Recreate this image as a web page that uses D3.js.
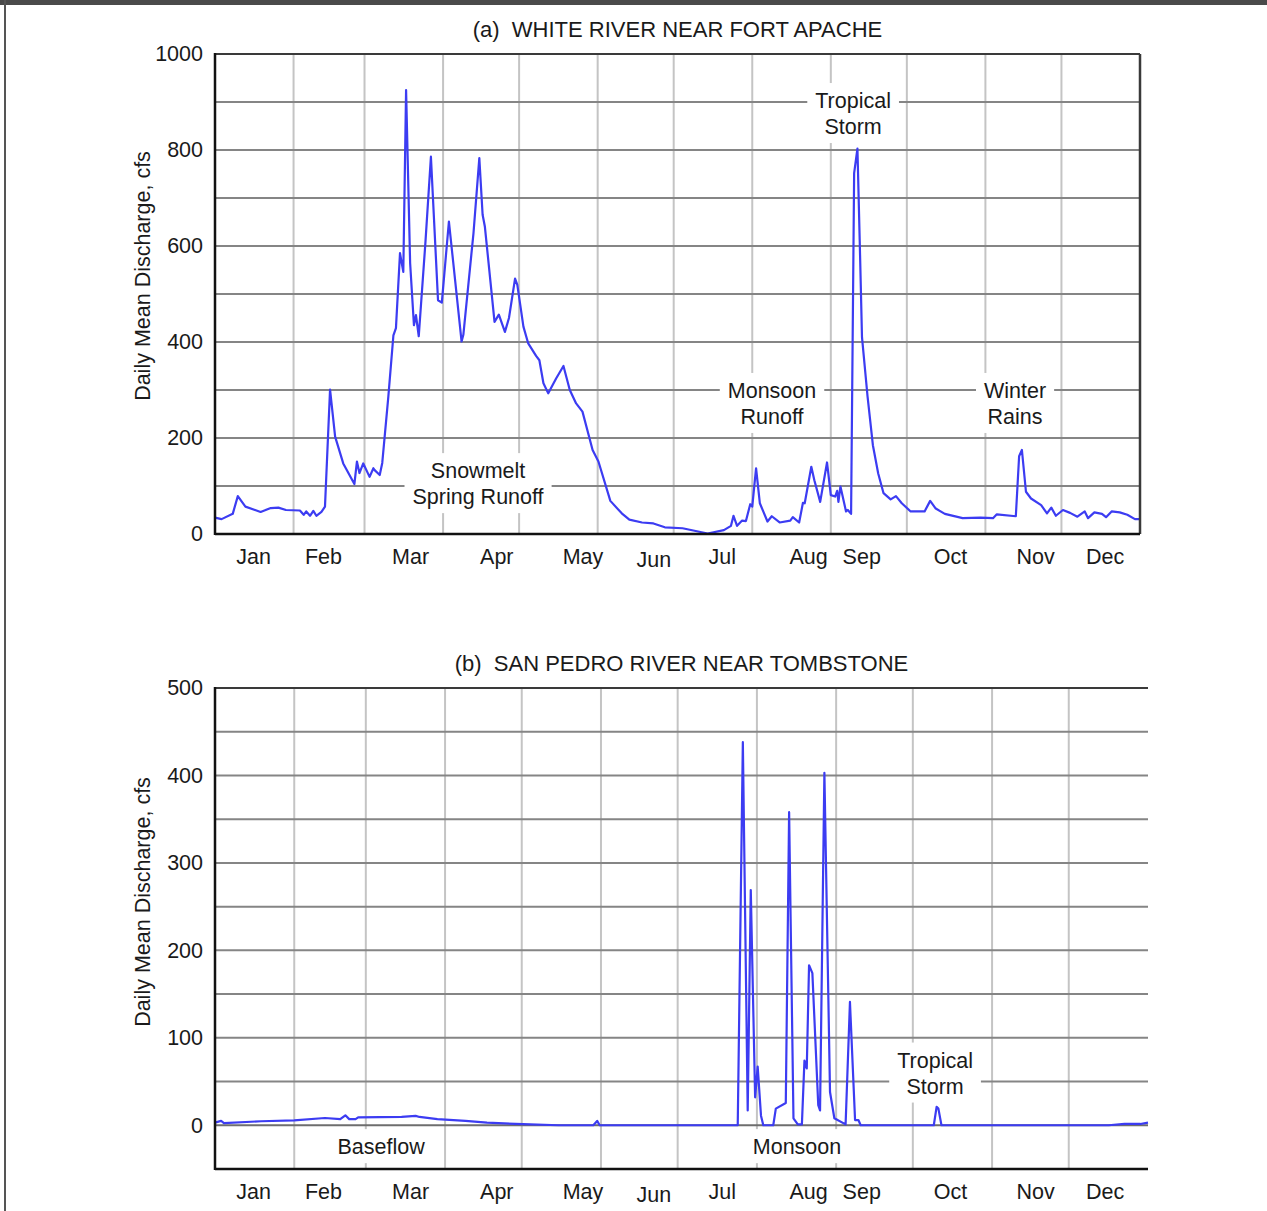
<!DOCTYPE html>
<html>
<head>
<meta charset="utf-8">
<script src="https://cdnjs.cloudflare.com/ajax/libs/d3/7.8.5/d3.min.js"></script>
<style>
  body { margin: 0; background: #fff; }
  svg text { font-family: "Liberation Sans", Arial, sans-serif; fill: #1a1a1a; }
</style>
</head>
<body>
<script>

// month names, lengths (for the gridlines) and where the labels sit (day of year)
var months = ["Jan", "Feb", "Mar", "Apr", "May", "Jun", "Jul", "Aug", "Sep", "Oct", "Nov", "Dec"];
var monthLengths = [31, 28, 31, 30, 31, 30, 31, 31, 30, 31, 30, 31];
var monthLabelDays = [15, 42.6, 77, 111, 145, 173, 200, 234, 255, 290, 323.6, 351];

// (a) white river near fort apache, day of year -> daily mean discharge (cfs)
var whiteDays = [0, 2.6, 7, 9, 12, 18, 22, 25, 28, 33.5, 35, 36, 37.5, 38.8, 40, 42, 43.4,
  45.4, 47.4, 50.6, 55, 56, 57, 58.5, 61, 62.5, 63, 65, 66, 68.4, 70.4, 71.4, 73, 74.3,
  75.4, 77, 78.5, 79.3, 80.4, 83, 85.2, 88, 89.5, 92.3, 97.3, 98, 102, 104.3, 105.6,
  106.5, 110.3, 112, 114.4, 116, 118.4, 119.3, 121.7, 123.6, 126.7, 128, 129.6, 131.5,
  134.6, 137.5, 140, 142.5, 145, 149, 151.3, 156, 160.5, 163.5, 168.5, 173, 177.5, 184.5,
  194.4, 200.8, 203.6, 204.6, 206, 208, 209.5, 211.2, 212, 213.5, 215, 218, 219.7, 222.8,
  227, 228, 230.5, 232, 232.7, 235.3, 236.5, 238.8, 241.5, 243, 244.7, 245.5, 246, 246.8,
  249, 249.7, 251, 252.2, 253.5, 254.4, 255.3, 257.5, 259.6, 261.7, 263.8, 266.6, 268.7,
  271, 274.5, 280, 282.2, 284.4, 288, 295, 302, 307, 308.5, 316, 317.3, 318.4, 320, 322,
  326, 328.3, 330, 331.8, 334.6, 337.4, 340.3, 343.2, 344.5, 347, 350, 351.6, 353.8, 357,
  360, 363, 365];
var whiteFlow = [34, 31, 42, 79, 57, 46, 54, 55, 50, 49, 40, 47, 38, 48, 38, 46, 57,
  301, 203, 147, 104, 151, 127, 147, 119, 137, 133, 123, 148, 286, 414, 429, 585, 546,
  925, 564, 435, 456, 412, 605, 786, 487, 482, 651, 401, 415, 627, 783, 665,
  640, 442, 457, 421, 450, 532, 519, 432, 397, 371, 362, 314, 293,
  324, 350, 300, 272, 255, 175, 151, 69, 43, 30, 24, 22, 14, 12,
  1, 8, 17, 38, 17, 28, 27, 62, 57, 137, 64, 26, 37, 24,
  28, 35, 24, 65, 64, 140, 112, 67, 149, 81, 78, 90, 67, 99,
  47, 50, 42, 752, 803, 612, 410, 286, 185, 126, 85, 72, 79,
  64, 47, 47, 69, 53, 42, 33, 34, 33, 41, 37, 162, 175, 88, 74,
  60, 43, 55, 38, 50, 44, 36, 47, 33, 45, 42, 35, 47, 45,
  40, 31, 31];

// (b) san pedro river near tombstone
var sanPedroDays = [0, 2.4, 3.5, 18, 31, 43, 49, 51, 52.5, 55, 56, 73, 78.5, 80, 87, 98,
  106.4, 120.5, 134.4, 148, 149.5, 150.5, 204.5, 206.5, 208.4, 209.6, 211.3, 212.3, 213.6,
  214.5, 218.4, 219.4, 223.3, 224.6, 226.3, 228, 229.6, 230.6, 231.5, 232.4, 233.7, 236,
  236.7, 238.4, 240.6, 242.3, 246.7, 248.4, 250.4, 251.7, 252.6, 281.2, 282.3, 283, 284.2,
  349.6, 355.8, 362, 365];
var sanPedroFlow = [3, 5, 2.5, 4.6, 5.7, 8.3, 7, 11.4, 7, 7, 9, 9.5, 10.7, 9.5, 7, 5,
  3, 1.2, 0, 0, 5, 0, 0, 438, 17, 269, 32, 67, 11,
  0, 0, 19, 25.5, 358, 8, 1, 1, 74, 65, 183, 174, 23,
  17, 403, 38, 8, 1, 141, 6, 6, 0, 0, 21, 19, 0,
  0, 1.5, 1.5, 3];

// y tick labels
var whiteTicks = [0, 200, 400, 600, 800, 1000];
var sanPedroTicks = [0, 100, 200, 300, 400, 500];

// annotation texts, anchored at (day, discharge) of the first line
var whiteNotes = [
  {"lines": ["Tropical", "Storm"], "day": 251.8, "value": 902},
  {"lines": ["Monsoon", "Runoff"], "day": 219.8, "value": 298},
  {"lines": ["Winter", "Rains"], "day": 315.7, "value": 298},
  {"lines": ["Snowmelt", "Spring Runoff"], "day": 103.8, "value": 131}
];
var sanPedroNotes = [
  {"lines": ["Baseflow"], "day": 65, "value": -25},
  {"lines": ["Monsoon"], "day": 227.7, "value": -25},
  {"lines": ["Tropical", "Storm"], "day": 281.7, "value": 74}
];

var W = 1267, H = 1211;
var fs = "21.5px";

var svg = d3.select("body")
  .append("svg")
  .attr("width", W)
  .attr("height", H);

// page frame: dark strip on top and thin rule on the left
svg.append("rect").attr("x", 0).attr("y", 0).attr("width", W).attr("height", 5).style("fill", "#4a4a4a");
svg.append("rect").attr("x", 4).attr("y", 0).attr("width", 2).attr("height", H).style("fill", "#555");

// month boundaries in day of year
var monthStarts = Array.from(d3.cumsum(monthLengths)).slice(0, 11);

// label scale is shared: the month names sit at the same spots in both panels
var labelX = d3.scaleLinear().domain([0, 365]).range([215, 1140]);

function drawPanel(p) {

  var x = d3.scaleLinear().domain([0, 365]).range([p.left, p.right]);
  var y = d3.scaleLinear().domain(p.yDomain).range([p.bottom, p.top]);
  var g = svg.append("g");

  // horizontal gridlines (darker)
  var hVals = d3.range(p.yDomain[0] + p.gridStep, p.yDomain[1], p.gridStep);
  // vertical gridlines at month starts (lighter)
  g.selectAll(".vgrid")
    .data(monthStarts)
    .enter()
    .append("line")
    .attr("class", "vgrid")
    .attr("x1", function(d) { return x(d); })
    .attr("x2", function(d) { return x(d); })
    .attr("y1", p.top)
    .attr("y2", p.bottom)
    .style("stroke", "#c4c4c4")
    .style("stroke-width", 2);

  g.selectAll(".hgrid")
    .data(hVals)
    .enter()
    .append("line")
    .attr("class", "hgrid")
    .attr("x1", p.left)
    .attr("x2", p.right)
    .attr("y1", function(d) { return y(d); })
    .attr("y2", function(d) { return y(d); })
    .style("stroke", function(d) { return d === 0 ? "#6e6e6e" : "#858585"; })
    .style("stroke-width", 2);

  // annotations with white boxes cutting the grid
  p.notes.forEach(function(n) {
    var ng = g.append("g");
    var t = ng.append("text")
      .attr("text-anchor", "middle")
      .style("font-size", fs);
    n.lines.forEach(function(line, i) {
      t.append("tspan")
        .attr("x", x(n.day))
        .attr("y", y(n.value) + 7 + i * 26)
        .text(line);
    });
    var bb = t.node().getBBox();
    ng.insert("rect", "text")
      .attr("x", bb.x - 8)
      .attr("y", bb.y - 6)
      .attr("width", bb.width + 16)
      .attr("height", bb.height + 10)
      .style("fill", "#fff");
  });

  // discharge line
  var line = d3.line()
    .x(function(d) { return x(d[0]); })
    .y(function(d) { return y(d[1]); });

  g.append("path")
    .datum(d3.zip(p.days, p.flow))
    .attr("d", line)
    .style("fill", "none")
    .style("stroke", "#3c3cf2")
    .style("stroke-width", 2.2)
    .style("stroke-linejoin", "round");

  // frame
  g.append("line").attr("x1", p.left).attr("x2", p.right).attr("y1", p.top).attr("y2", p.top)
    .style("stroke", "#3a3a3a").style("stroke-width", 2);
  if (p.rightBorder) {
    g.append("line").attr("x1", p.right).attr("x2", p.right).attr("y1", p.top).attr("y2", p.bottom)
      .style("stroke", "#3a3a3a").style("stroke-width", 2.5);
  }
  g.append("line").attr("x1", p.left).attr("x2", p.right).attr("y1", p.bottom).attr("y2", p.bottom)
    .style("stroke", "#111").style("stroke-width", 2.5);
  g.append("line").attr("x1", p.left).attr("x2", p.left).attr("y1", p.top - 1).attr("y2", p.bottom + 1)
    .style("stroke", "#111").style("stroke-width", 2.5);

  // y axis labels
  var yAxis = d3.axisLeft(y)
    .tickValues(p.ticks)
    .tickSize(0)
    .tickPadding(12)
    .tickFormat(d3.format("d"));

  var ya = g.append("g")
    .attr("transform", "translate(" + p.left + ",0)")
    .call(yAxis);
  ya.select(".domain").remove();
  ya.selectAll("text").style("font-size", fs).style("font-family", null);

  // month labels
  var xAxis = d3.axisBottom(labelX)
    .tickValues(monthLabelDays)
    .tickSize(0)
    .tickPadding(0)
    .tickFormat(function(d, i) { return months[i]; });

  var xa = g.append("g")
    .attr("transform", "translate(0," + (p.labelY) + ")")
    .call(xAxis);
  xa.select(".domain").remove();
  xa.selectAll("text")
    .attr("y", 0)
    .attr("dy", function(d, i) { return months[i] === "Jun" ? "3px" : "0"; })
    .style("font-size", fs)
    .style("font-family", null);

  // title
  g.append("text")
    .attr("x", (p.left + p.right) / 2)
    .attr("y", p.titleY)
    .attr("text-anchor", "middle")
    .style("font-size", "22px")
    .style("white-space", "pre")
    .text(p.title);

  // y axis title
  g.append("text")
    .attr("transform", "translate(150," + p.yTitleY + ") rotate(-90)")
    .attr("text-anchor", "middle")
    .style("font-size", fs)
    .text("Daily Mean Discharge, cfs");
}

drawPanel({
  left: 215, right: 1140, top: 54, bottom: 534,
  yDomain: [0, 1000], gridStep: 100, ticks: whiteTicks,
  days: whiteDays, flow: whiteFlow, notes: whiteNotes,
  rightBorder: true, labelY: 564, titleY: 37,
  title: "(a)  WHITE RIVER NEAR FORT APACHE", yTitleY: 276
});

drawPanel({
  left: 215, right: 1148, top: 688, bottom: 1169,
  yDomain: [-50, 500], gridStep: 50, ticks: sanPedroTicks,
  days: sanPedroDays, flow: sanPedroFlow, notes: sanPedroNotes,
  rightBorder: false, labelY: 1199, titleY: 671,
  title: "(b)  SAN PEDRO RIVER NEAR TOMBSTONE", yTitleY: 902
});

</script>
</body>
</html>
